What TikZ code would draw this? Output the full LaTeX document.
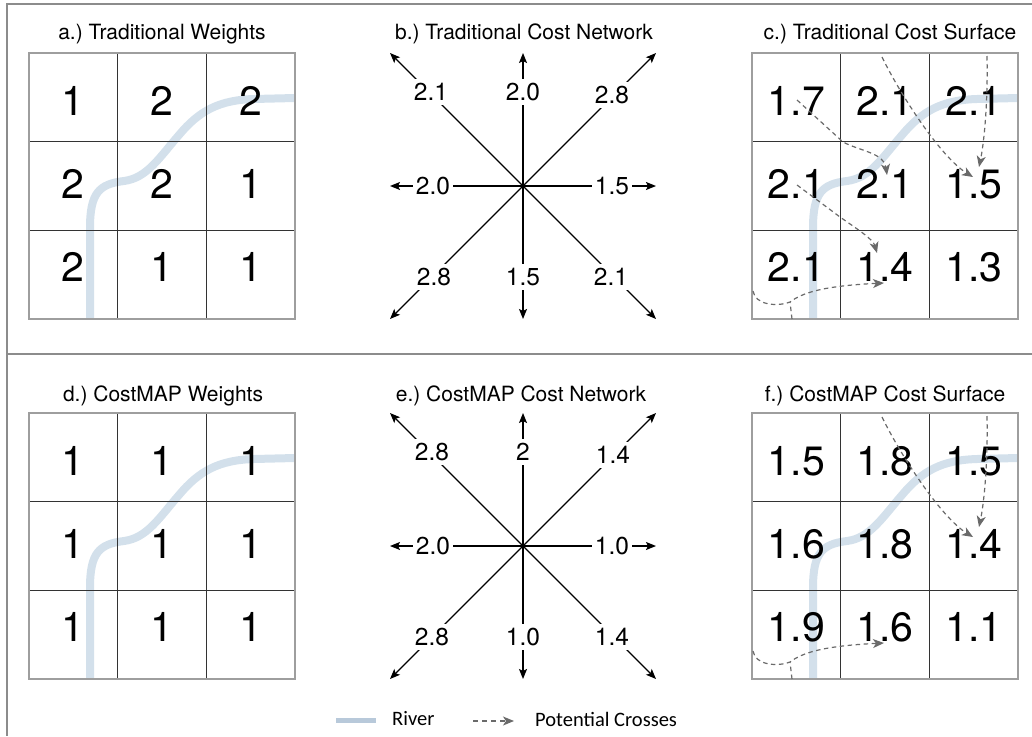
\documentclass[tikz,border=0pt]{standalone}
\usepackage{fontspec}
\setmainfont{TeX Gyre Heros}
\newfontfamily\legfont{Carlito}
\usetikzlibrary{arrows.meta}
\frenchspacing

\definecolor{riverc}{HTML}{D3E0EB}
\definecolor{riverleg}{HTML}{B8C9DA}
\definecolor{framec}{HTML}{8C8C8C}
\definecolor{crossc}{HTML}{6A6A6A}

\tikzset{
 titletext/.style={font=\fontsize{21}{25}\selectfont, inner sep=0pt, anchor=base},
 cellnum/.style={font=\fontsize{41}{48}\selectfont, inner sep=0pt},
 netlab/.style={font=\fontsize{24.5}{28}\selectfont, fill=white, inner xsep=2.5pt, inner ysep=4pt},
 netarrow/.style={line width=1.3pt, -{Stealth[length=10pt,width=8pt,inset=2pt]}},
 riverline/.style={draw=riverc, line width=8pt, line cap=butt},
 gridinner/.style={draw=black!80, line width=1.1pt},
 gridouter/.style={draw=black!38, line width=1.6pt},
 crossarrow/.style={draw=crossc, line width=1.2pt, dash pattern=on 4.5pt off 3.5pt, -{Stealth[length=11pt,width=9pt,inset=3pt]}},
 crossline/.style={draw=crossc, line width=1.2pt, dash pattern=on 4.5pt off 3.5pt},
 framel/.style={draw=framec, line width=2.2pt},
 legtext/.style={font=\legfont\fontsize{20.5}{24}\selectfont, inner sep=0pt, anchor=west},
}

\newcommand\riverandgrid{%
  \draw[riverline] (61,266) -- (61,175) .. controls (61,140) and (70,131) .. (95,128)
     .. controls (118,125) and (130,105) .. (150,82)
     .. controls (170,58) and (190,47) .. (225,46) -- (266,45);
  \draw[gridinner] (88.7,0) -- (88.7,266) (177.3,0) -- (177.3,266)
     (0,88.7) -- (266,88.7) (0,177.3) -- (266,177.3);
  \draw[gridouter] (0,0) rectangle (266,266);
}

\newcommand\cellnums[2]{%
  \foreach \v [count=\k from 0] in {#2} {
    \pgfmathsetmacro\gcx{44.3+88.7*mod(\k,3)}
    \pgfmathsetmacro\gcy{48+83*int(\k/3)}
    \node[cellnum] (#1\k) at (\gcx,\gcy) {\v};
  }}

\newcommand\crossescommon[1]{%
  \coordinate (#1s2) at (130,4);   \coordinate (#1e2) at (221,124);
  \coordinate (#1s3) at (235,3);   \coordinate (#1e3) at (227,114);
  \coordinate (#1s5) at (1,238);   \coordinate (#1m5) at (38,249);
  \coordinate (#1e5) at (132,230); \coordinate (#1b5) at (40,266);
  \draw[crossarrow] (#1s2) .. controls (150,45) and (190,105) .. (#1e2);
  \draw[crossarrow] (#1s3) .. controls (236,50) and (232,90) .. (#1e3);
  \draw[crossarrow] (#1s5) .. controls (3,252) and (25,254) .. (#1m5)
      .. controls (50,240) and (70,233) .. (#1e5);
  \draw[crossline] (#1b5) -- (#1m5);
}

\begin{document}
\begin{tikzpicture}[x=1pt,y=-1pt]
\useasboundingbox (0,0) rectangle (1032,736);

% frame
\draw[framel] (1032,4) -- (7,4) -- (7,736);
\draw[framel] (7,354) -- (1032,354);

% titles
\node[titletext] (ta) at (162,39.5) {a.) Traditional Weights};
\node[titletext] (tb) at (524,39.5) {b.) Traditional Cost Network};
\node[titletext] (tc) at (890,39.5) {c.) Traditional Cost Surface};
\node[titletext] (td) at (163,401) {d.) CostMAP Weights};
\node[titletext] (te) at (521,401) {e.) CostMAP Cost Network};
\node[titletext] (tf) at (885,401) {f.) CostMAP Cost Surface};

% a
\begin{scope}[shift={(29,53)}]
  \riverandgrid
  \cellnums{a}{1,2,2,2,2,1,2,1,1}
\end{scope}

% c
\begin{scope}[shift={(752,53)}]
  \riverandgrid
  \cellnums{c}{1.7,2.1,2.1,2.1,2.1,1.5,2.1,1.4,1.3}
  \crossescommon{c}
  \coordinate (cs1) at (45,47);  \coordinate (cm1) at (91,89);  \coordinate (ce1) at (135,122);
  \coordinate (cs4) at (45,132); \coordinate (cm4) at (88,164); \coordinate (ce4) at (125,200);
  \draw[crossarrow] (cs1) -- (cm1) .. controls (108,98) and (132,100) .. (ce1);
  \draw[crossarrow] (cs4) -- (cm4) .. controls (105,176) and (121,186) .. (ce4);
\end{scope}

% d
\begin{scope}[shift={(29,413)}]
  \riverandgrid
  \cellnums{d}{1,1,1,1,1,1,1,1,1}
\end{scope}

% f
\begin{scope}[shift={(752,413)}]
  \riverandgrid
  \cellnums{f}{1.5,1.8,1.5,1.6,1.8,1.4,1.9,1.6,1.1}
  \crossescommon{f}
\end{scope}

% b network
\begin{scope}[shift={(523,186)}]
  \coordinate (bC) at (0,0);
  \coordinate (bN) at (0,-133);   \coordinate (bS) at (0,133);
  \coordinate (bE) at (133,0);    \coordinate (bW) at (-133,0);
  \coordinate (bNE) at (133,-133); \coordinate (bNW) at (-133,-133);
  \coordinate (bSE) at (133,133);  \coordinate (bSW) at (-133,133);
  \foreach \d in {N,S,E,W,NE,NW,SE,SW} \draw[netarrow] (bC) -- (b\d);
  \node[netlab] (bl1) at (-92,-94) {2.1};
  \node[netlab] (bl2) at (0,-94) {2.0};
  \node[netlab] (bl3) at (89,-91) {2.8};
  \node[netlab] (bl4) at (-90,0) {2.0};
  \node[netlab] (bl5) at (89,0) {1.5};
  \node[netlab] (bl6) at (-89,91) {2.8};
  \node[netlab] (bl7) at (0,91) {1.5};
  \node[netlab] (bl8) at (88,91) {2.1};
\end{scope}

% e network
\begin{scope}[shift={(523,546)}]
  \coordinate (eC) at (0,0);
  \coordinate (eN) at (0,-133);   \coordinate (eS) at (0,133);
  \coordinate (eE) at (133,0);    \coordinate (eW) at (-133,0);
  \coordinate (eNE) at (133,-133); \coordinate (eNW) at (-133,-133);
  \coordinate (eSE) at (133,133);  \coordinate (eSW) at (-133,133);
  \foreach \d in {N,S,E,W,NE,NW,SE,SW} \draw[netarrow] (eC) -- (e\d);
  \node[netlab] (el1) at (-91,-94) {2.8};
  \node[netlab] (el2) at (0,-94) {2};
  \node[netlab] (el3) at (90,-91) {1.4};
  \node[netlab] (el4) at (-90,0) {2.0};
  \node[netlab] (el5) at (89,0) {1.0};
  \node[netlab] (el6) at (-91,91) {2.8};
  \node[netlab] (el7) at (0,91) {1.0};
  \node[netlab] (el8) at (89,91) {1.4};
\end{scope}

% legend
\coordinate (lr1) at (336,720); \coordinate (lr2) at (376,720);
\draw[draw=riverleg, line width=5pt] (lr1) -- (lr2);
\node[legtext] (lrt) at (392,719) {River};
\coordinate (lc1) at (473,721); \coordinate (lc2) at (514,721);
\draw[crossarrow, dash pattern=on 5pt off 4pt] (lc1) -- (lc2);
\node[legtext] (lct) at (535,719) {Potential Crosses};
\end{tikzpicture}
\end{document}
